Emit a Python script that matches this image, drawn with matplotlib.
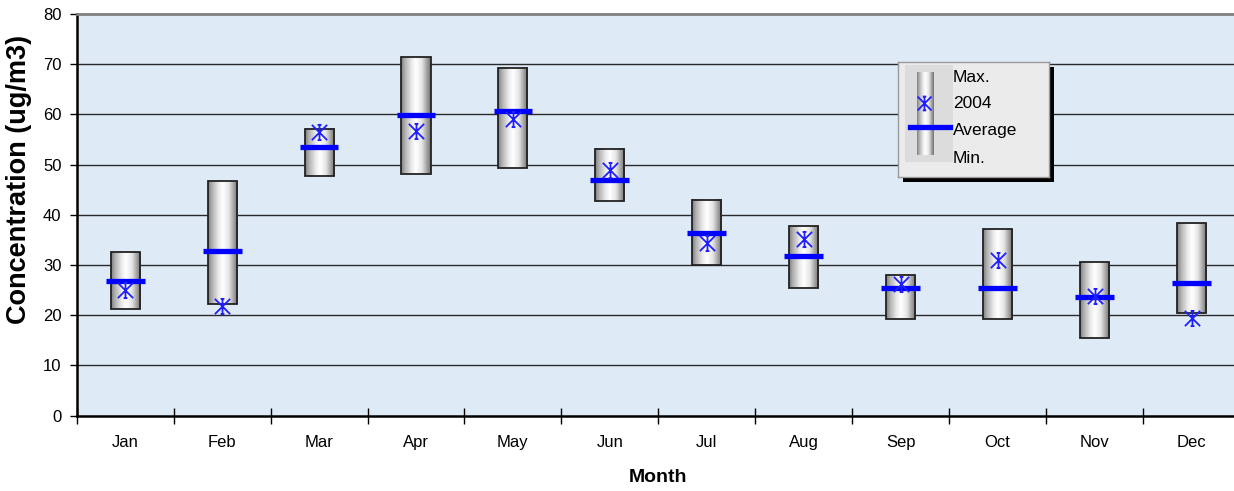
import numpy as np
import matplotlib
matplotlib.use("Agg")
import matplotlib.pyplot as plt
from matplotlib.patches import Rectangle
from matplotlib.path import Path

plt.rcParams['font.family'] = ['Liberation Sans', 'DejaVu Sans']

# Monthly concentration summary (ug/m3)
months = ['Jan', 'Feb', 'Mar', 'Apr', 'May', 'Jun',
          'Jul', 'Aug', 'Sep', 'Oct', 'Nov', 'Dec']
max_vals = [32.6, 46.7, 57.1, 71.5, 69.3, 53.2, 43.0, 37.8, 28.0, 37.2, 30.5, 38.4]
min_vals = [21.3, 22.3, 47.7, 48.2, 49.3, 42.7, 29.9, 25.5, 19.3, 19.3, 15.4, 20.5]
avg_vals = [26.8, 32.8, 53.5, 59.9, 60.7, 47.0, 36.3, 31.7, 25.4, 25.4, 23.7, 26.5]
y2004 = [25.1, 21.9, 56.5, 56.7, 59.0, 49.0, 34.3, 35.1, 26.3, 30.9, 23.8, 19.5]
yticks = [0, 10, 20, 30, 40, 50, 60, 70, 80]

W, H = 1234, 491
fig = plt.figure(figsize=(W / 100, H / 100), dpi=100)
fig.patch.set_facecolor('white')

ax = fig.add_axes([76.7 / W, (H - 415.5) / H, (1240 - 76.7) / W, (415.5 - 14) / H])
ax.set_facecolor('#dfeaf7')
ax.set_xlim(0, 12)
ax.set_ylim(0, 80)

# horizontal gridlines
for v in yticks[1:-1]:
    ax.axhline(v, color='#2a2a2a', lw=1.0, zorder=1)

# cylinder shading for the range bars
grad_pos = np.array([0.0, 0.12, 0.35, 0.5, 0.7, 0.88, 1.0])
grad_val = np.array([0.50, 0.68, 0.92, 1.0, 0.90, 0.62, 0.45])
xs = np.linspace(0, 1, 64)
shade = np.interp(xs, grad_pos, grad_val)
cyl = np.stack([shade, shade, shade], axis=-1)[None, :, :]

# asterisk marker: X with a vertical stroke and short caps
star = Path(
    [(0, -1), (0, 1),
     (-1, -1), (1, 1),
     (-1, 1), (1, -1),
     (-0.25, 1), (0.25, 1),
     (-0.25, -1), (0.25, -1)],
    [Path.MOVETO, Path.LINETO] * 5)

bar_w = 0.30
avg_w = 0.40
x = np.arange(len(months)) + 0.5
for xi, lo, hi in zip(x, min_vals, max_vals):
    ax.imshow(cyl, extent=(xi - bar_w / 2, xi + bar_w / 2, lo, hi),
              aspect='auto', interpolation='bilinear', zorder=3)
    ax.add_patch(Rectangle((xi - bar_w / 2, lo), bar_w, hi - lo, fill=False,
                           edgecolor='#222222', lw=1.3, zorder=4))

ax.hlines(avg_vals, x - avg_w / 2, x + avg_w / 2, colors='#0000ff', lw=3.8, zorder=5)
ax.plot(x, y2004, linestyle='none', marker=star, markersize=11,
        markeredgecolor='#1f1fff', markerfacecolor='none',
        markeredgewidth=1.3, zorder=6)

# axes styling
ax.spines['right'].set_visible(False)
ax.spines['top'].set_color('#808080')
ax.spines['top'].set_linewidth(2)
ax.spines['left'].set_linewidth(1.8)
ax.spines['bottom'].set_linewidth(1.8)

ax.set_yticks(yticks)
ax.set_yticklabels([str(v) for v in yticks], fontsize=12)
ax.tick_params(axis='y', direction='out', length=5, width=1, pad=6)

ax.set_xticks(np.arange(0, 13))
ax.set_xticklabels([])
ax.tick_params(axis='x', which='major', direction='inout', length=12, width=1)
ax.set_xticks(x, minor=True)
ax.set_xticklabels(months, minor=True, fontsize=12)
ax.tick_params(axis='x', which='minor', length=0, pad=14)

fig.text(658 / W, 1 - 478 / H, 'Month', fontsize=14, fontweight='bold',
         ha='center', va='center')
fig.text(19 / W, 1 - 179 / H, 'Concentration (ug/m3)', fontsize=19.5,
         fontweight='bold', rotation=90, ha='center', va='center')

# legend box with drop shadow
lx0, ly0, lw_, lh_ = 898, 62, 151, 115
fig.patches.append(Rectangle(((lx0 + 5) / W, 1 - (ly0 + lh_ + 5) / H), lw_ / W, lh_ / H,
                             transform=fig.transFigure, facecolor='black',
                             edgecolor='none', zorder=9))
lax = fig.add_axes([lx0 / W, 1 - (ly0 + lh_) / H, lw_ / W, lh_ / H], zorder=10)
lax.set_xlim(0, lw_)
lax.set_ylim(lh_, 0)
lax.set_facecolor('#ebebeb')
for s in lax.spines.values():
    s.set_color('#9a9a9a')
    s.set_linewidth(1)
lax.set_xticks([])
lax.set_yticks([])
lax.add_patch(Rectangle((7, 3), 48, 97, facecolor='#dcdcdc', edgecolor='none'))
lax.imshow(cyl, extent=(19, 36, 93, 11), aspect='auto', interpolation='bilinear', zorder=2)
lax.plot([26], [41], linestyle='none', marker=star, markersize=10,
         markeredgecolor='#1f1fff', markerfacecolor='none',
         markeredgewidth=1.3, zorder=4)
lax.plot([12, 52], [65, 65], color='#0000ff', lw=3.8, zorder=4)
for ty, label in zip([15, 42, 69, 96], ['Max.', '2004', 'Average', 'Min.']):
    lax.text(55, ty, label, fontsize=12.5, va='center', ha='left', zorder=5)

fig.savefig('out.png', dpi=100, facecolor='white')
